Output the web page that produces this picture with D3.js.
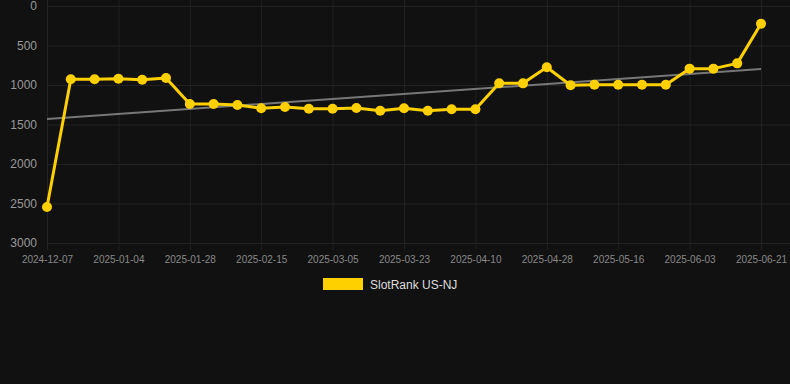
<!DOCTYPE html>
<html><head><meta charset="utf-8">
<script src="https://cdn.jsdelivr.net/npm/d3@7"></script>
<style>html,body{margin:0;padding:0;background:#111111;}svg{display:block;}</style>
</head><body>
<svg id="chart" width="790" height="384"></svg>
<script>
const dates = ["2024-12-07","2024-12-16","2024-12-25","2025-01-04","2025-01-12","2025-01-20","2025-01-28","2025-02-03","2025-02-09","2025-02-15","2025-02-21","2025-02-27","2025-03-05","2025-03-11","2025-03-17","2025-03-23","2025-03-29","2025-04-04","2025-04-10","2025-04-16","2025-04-22","2025-04-28","2025-05-04","2025-05-10","2025-05-16","2025-05-22","2025-05-28","2025-06-03","2025-06-09","2025-06-15","2025-06-21"];
const ranks = [2545,928,928,920,933,911,1240,1240,1253,1295,1278,1300,1300,1291,1325,1295,1325,1308,1308,977,979,776,1004,996,996,996,996,793,793,726,224];
const yTicks = [0,500,1000,1500,2000,2500,3000];
const trendEnds = [1430,797];
const seriesName = "SlotRank US-NJ";

const svg = d3.select("#chart");
const x = d3.scalePoint().domain(dates).range([47,761]);
const y = d3.scaleLinear().domain([0,3000]).range([6,243]);
const xLabels = dates.filter((d,i)=>i%3===0);
const font = "Arial, 'Liberation Sans', sans-serif";

// grid
svg.append("g").selectAll("line").data(yTicks).join("line")
  .attr("x1",47).attr("x2",790).attr("y1",d=>y(d)+0.5).attr("y2",d=>y(d)+0.5)
  .attr("stroke","#222222").attr("stroke-width",1);
svg.append("g").selectAll("line").data(xLabels).join("line")
  .attr("x1",d=>x(d)+0.5).attr("x2",d=>x(d)+0.5).attr("y1",0).attr("y2",250)
  .attr("stroke","#222222").attr("stroke-width",1);

// y axis labels
const yAxis = d3.axisLeft(y).tickValues(yTicks).tickFormat(d3.format("d")).tickSize(0).tickPadding(0);
const gy = svg.append("g").attr("transform","translate(37,0)").call(yAxis);
gy.select(".domain").remove();
gy.selectAll("text").attr("fill","#999999").style("font-family",font).style("font-size","12px");

// x axis labels
const xAxis = d3.axisBottom(x).tickValues(xLabels).tickSize(0).tickPadding(0);
const gx = svg.append("g").attr("transform","translate(0,256)").call(xAxis);
gx.select(".domain").remove();
gx.selectAll("text").attr("fill","#888888").style("font-family",font).style("font-size","10px");

// trend
svg.append("line")
  .attr("x1",x(dates[0])).attr("x2",x(dates[dates.length-1]))
  .attr("y1",y(trendEnds[0])).attr("y2",y(trendEnds[1]))
  .attr("stroke","#777777").attr("stroke-width",2);

// series
const data = dates.map((d,i)=>({d, v:ranks[i]}));
svg.append("path").datum(data)
  .attr("fill","none").attr("stroke","#FFD000").attr("stroke-width",3)
  .attr("stroke-linejoin","round")
  .attr("d", d3.line().x(p=>x(p.d)).y(p=>y(p.v)));
svg.append("g").selectAll("circle").data(data).join("circle")
  .attr("cx",p=>x(p.d)).attr("cy",p=>y(p.v)).attr("r",5)
  .attr("fill","#FFD000");

// legend
const lg = svg.append("g");
lg.append("rect").attr("x",323).attr("y",278).attr("width",40).attr("height",12).attr("fill","#FFD000");
lg.append("text").attr("x",370).attr("y",289).text(seriesName)
  .attr("fill","#dddddd").style("font-family",font).style("font-size","12px");
</script>
</body></html>
